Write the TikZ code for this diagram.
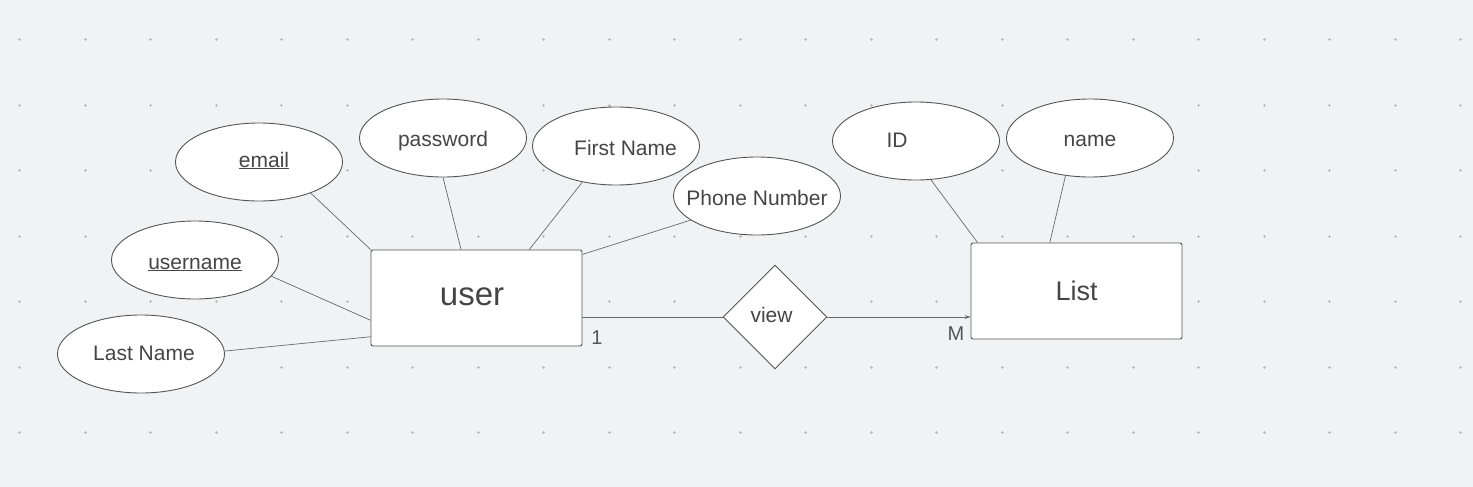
\documentclass[tikz,border=0pt]{standalone}
\usepackage{fontspec}
\setmainfont{Liberation Sans}
\usetikzlibrary{shapes.geometric,calc,arrows.meta}
\definecolor{bg}{HTML}{F1F2F4}
\definecolor{dotc}{HTML}{B8BBC0}
\definecolor{edge}{HTML}{555555}
\definecolor{conn}{HTML}{6A6A6A}
\definecolor{txt}{HTML}{454545}
% #1 = twice the horizontal shift, #2 = baseline below centre, #3 = text
\newcommand\zo[3]{\makebox[0pt]{\hspace*{#1}\raisebox{-#2}{#3}}}
\tikzset{
  x=1pt, y=-1pt,
  attr/.style={ellipse, draw=edge, line width=0.9pt, fill=white, minimum width=167pt, minimum height=78pt, inner sep=0pt, text height=0pt, text depth=0pt, text=txt, font=\fontsize{21}{25}\selectfont},
  ent/.style={rectangle, rounded corners=2pt, draw=edge, line width=0.9pt, fill=white, minimum width=211pt, minimum height=96pt, inner sep=0pt, text height=0pt, text depth=0pt, text=txt},
  rel/.style={diamond, draw=edge, line width=0.9pt, fill=white, minimum width=104pt, minimum height=104pt, inner sep=0pt, text height=0pt, text depth=0pt, text=txt, font=\fontsize{21}{25}\selectfont},
  link/.style={draw=conn, line width=0.7pt},
  card/.style={text=edge, font=\fontsize{20}{24}\selectfont, inner sep=0pt},
}
\begin{document}
\begin{tikzpicture}
\fill[bg] (0,0) rectangle (1473,487);
\useasboundingbox (0,0) rectangle (1473,487);
\foreach \i in {0,...,22} {
  \foreach \j in {0,...,6} {
    \draw[dotc, line width=0.5pt] ({19.5+65.5*\i-1.5},{39.5+65.5*\j}) -- ++(3,0)
      ({19.5+65.5*\i},{39.5+65.5*\j-1.5}) -- ++(0,3);
  }
}
% entities
\node[ent, font=\fontsize{33}{38}\selectfont] (user) at (476.5,298) {\zo{-9pt}{7.5pt}{user}};
\node[ent, font=\fontsize{27}{32}\selectfont] (list) at (1076.5,291) {\zo{0pt}{9.7pt}{List}};
\node[rel] (view) at (775,317) {\zo{-7pt}{5.3pt}{view}};
% attributes
\node[attr] (email) at (259,162) {\zo{10pt}{5pt}{\underline{email}}};
\node[attr] (password) at (443,138) {\zo{0pt}{8.5pt}{password}};
\node[attr] (first) at (616,146) {\zo{19pt}{9.5pt}{First Name}};
\node[attr] (phone) at (757,196) {\zo{0pt}{9.5pt}{Phone Number}};
\node[attr] (username) at (195,260) {\zo{0pt}{9pt}{\underline{username}}};
\node[attr] (last) at (141,354) {\zo{6pt}{6pt}{Last Name}};
\node[attr] (id) at (916,141) {\zo{-38pt}{6pt}{ID}};
\node[attr] (name) at (1090,138) {\zo{0pt}{8pt}{name}};
% connectors
\path[link] (email.329) -- (user.north west);
\path[link] (password.270) -- ($(user.north west)!0.427!(user.north east)$);
\path[link] (first.227) -- ($(user.north west)!0.749!(user.north east)$);
\path[link] (phone.200) -- ($(user.north east)!0.05!(user.south east)$);
\path[link] (username.348) -- ($(user.north west)!0.73!(user.south west)$);
\path[link] (last.2) -- ($(user.north west)!0.9!(user.south west)$);
\path[link] (id.291) -- ($(list.north west)!0.033!(list.north east)$);
\path[link] (name.237) -- ($(list.north west)!0.374!(list.north east)$);
\path[link] (view.west) -- (view.west -| user.east);
\path[link, -{Stealth[length=6pt,width=4pt]}] (view.east) -- (view.east -| list.west);
% cardinalities
\node[card] (one) at (597,338) {1};
\node[card] (many) at (956,334) {M};
\end{tikzpicture}
\end{document}
